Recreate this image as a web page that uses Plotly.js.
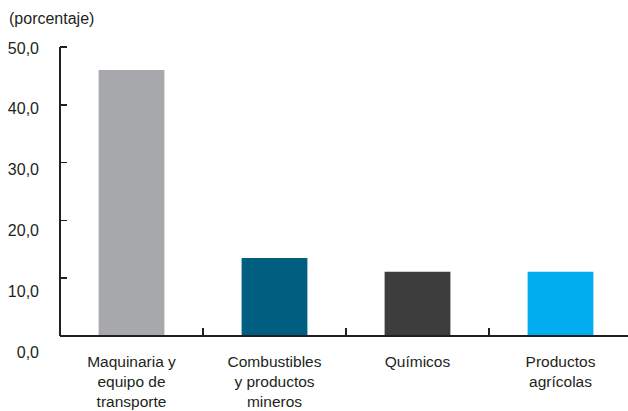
<!DOCTYPE html>
<html>
<head>
<meta charset="utf-8">
<script src="https://cdn.plot.ly/plotly-3.0.1.min.js"></script>
<style>html,body{margin:0;padding:0;background:#fff;}#chart{width:628px;height:411px;}</style>
</head>
<body>
<div id="chart"></div>
<script>
var categories = ["Maquinaria y<br>equipo de<br>transporte", "Combustibles<br>y productos<br>mineros", "Químicos", "Productos<br>agrícolas"];
var values = [46.0, 13.5, 11.1, 11.1];
var barColors = ["#A7A8AB", "#005F80", "#3D3D3D", "#00AEEF"];
var tickValues = [0, 10, 20, 30, 40, 50];
var tickLabels = ["0,0", "10,0", "20,0", "30,0", "40,0", "50,0"];

var ink = "#231F20";
var font = {family: "Liberation Sans, Arial, sans-serif", size: 16, color: ink};
var xfont = {family: "Liberation Sans, Arial, sans-serif", size: 15.5, color: ink};

var data = [
  {type: "bar", x: categories, y: values, marker: {color: barColors}, width: 0.46, hoverinfo: "skip", showlegend: false},
  {type: "scatter", mode: "none", x: categories, y: [null, null, null, null], yaxis: "y2", hoverinfo: "skip", showlegend: false}
];

var layout = {
  width: 628, height: 411,
  margin: {l: 60, r: 0, t: 40, b: 51},
  paper_bgcolor: "#fff", plot_bgcolor: "rgba(0,0,0,0)",
  font: font,
  title: {text: "(porcentaje)", x: 9/628, xanchor: "left", xref: "container", y: 1 - 18/411, yanchor: "middle", yref: "container", font: font},
  xaxis: {
    type: "category", range: [-0.5, 3.472], anchor: "free", position: 0.075,
    showline: true, linecolor: ink, linewidth: 2,
    ticks: "inside", tickson: "boundaries", ticklen: 7, tickwidth: 1.5, tickcolor: ink,
    showgrid: false, zeroline: false, tickfont: xfont, ticklabelstandoff: 11, fixedrange: true
  },
  yaxis: {
    range: [-4.152, 51.21], showline: false, showgrid: false, zeroline: false,
    ticks: "inside", ticklen: 7, tickwidth: 1.5, tickcolor: ink,
    tickvals: tickValues, showticklabels: false, fixedrange: true
  },
  yaxis2: {
    overlaying: "y", side: "left", range: [-1.316, 51.32],
    showline: false, showgrid: false, zeroline: false, ticks: "",
    tickvals: tickValues, ticktext: tickLabels, tickfont: font,
    ticklabelstandoff: 20, fixedrange: true
  },
  shapes: [
    {type: "line", xref: "paper", yref: "y", x0: 0, x1: 0, y0: 0, y1: 50, line: {color: ink, width: 2}}
  ]
};

Plotly.newPlot("chart", data, layout, {displayModeBar: false, staticPlot: true});
</script>
</body>
</html>
